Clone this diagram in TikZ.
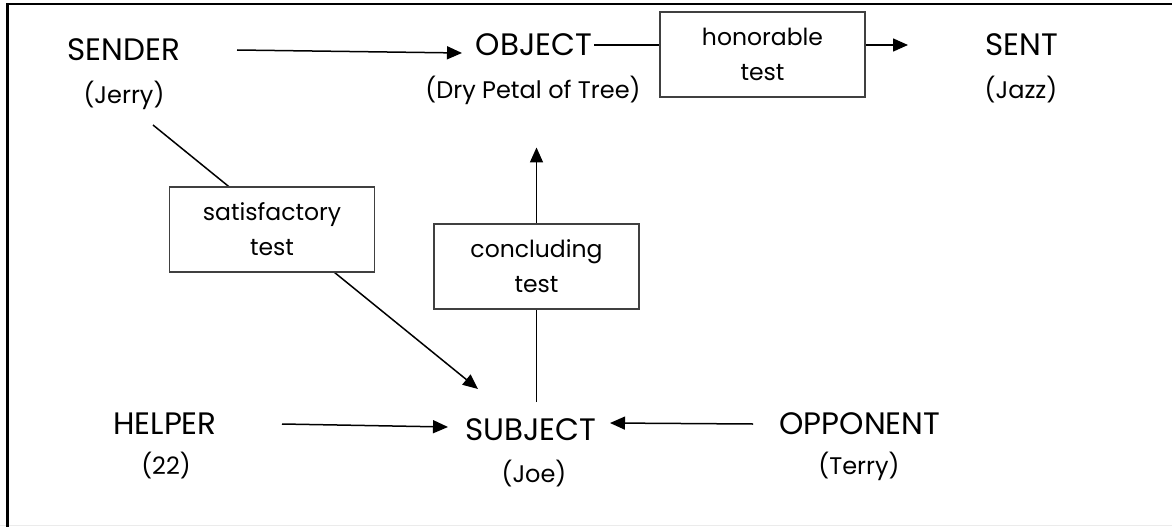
\documentclass[tikz,border=0pt]{standalone}
\usepackage{fontspec}
\setmainfont{Poppins}
\usetikzlibrary{arrows.meta,backgrounds}
\tikzset{
  big/.style={inner sep=0pt,font=\fontsize{31}{37}\selectfont},
  small/.style={inner sep=0pt,font=\fontsize{24}{28}\selectfont},
  testbox/.style={draw=black!75,line width=1.1pt,fill=white,minimum width=205pt,minimum height=85pt,inner sep=0pt,align=center,font=\fontsize{23.5}{35}\selectfont},
  arr/.style={line width=1.5pt,-{Triangle[length=15pt,width=13pt]}},
  plain/.style={line width=1.5pt}
}
\begin{document}
\begin{tikzpicture}[x=1pt,y=-1pt]
\useasboundingbox (0,0) rectangle (1172,527);
\draw[black!8,line width=1pt] (0,525.5) -- (1172,525.5);
\draw[line width=2.2pt] (7.5,527) -- (7.5,4) -- (1172,4);
% labels
\node[big] (sender) at (124,50) {SENDER};
\node[small] (jerry) at (124,95) {(Jerry)};
\node[big] (object) at (534,45) {OBJECT};
\node[small] (petal) at (533,90) {(Dry Petal of Tree)};
\node[big] (sent) at (1022,45) {SENT};
\node[small] (jazz) at (1021,90) {(Jazz)};
\node[big] (helper) at (165,424) {HELPER};
\node[small] (num) at (166,466) {(22)};
\node[big] (subject) at (531,430) {SUBJECT};
\node[small] (joe) at (534,474) {(Joe)};
\node[big] (opponent) at (860,424) {OPPONENT};
\node[small] (terry) at (859,466) {(Terry)};
% boxes
\node[testbox] (hon) at (762.5,54.5) {honorable\\test};
\node[testbox] (sat) at (272,229.5) {satisfactory\\test};
\node[testbox] (conc) at (536.5,266.5) {concluding\\test};
\coordinate (cstart) at ([yshift=28pt]subject.center);
\begin{scope}[on background layer]
\draw[arr] ([xshift=29pt,yshift=-30pt]jerry.center) -- ([xshift=-53pt,yshift=41pt]subject.center);
\draw[arr] (cstart -| conc.center) -- ([yshift=76pt]conc.north);
\end{scope}
\draw[arr] ([xshift=113pt]sender.center) -- ([xshift=-72pt,yshift=-8pt]object.center);
\draw[plain] ([xshift=2pt]object.east) -- (object.east -| hon.west);
\draw[arr] (object.east -| hon.east) -- ([xshift=-114pt]sent.center);
\draw[arr] ([xshift=117pt]helper.center) -- ([xshift=-83pt,yshift=3pt]subject.center);
\draw[arr] ([xshift=-107pt]opponent.center) -- ([xshift=79pt,yshift=7pt]subject.center);
\end{tikzpicture}
\end{document}
